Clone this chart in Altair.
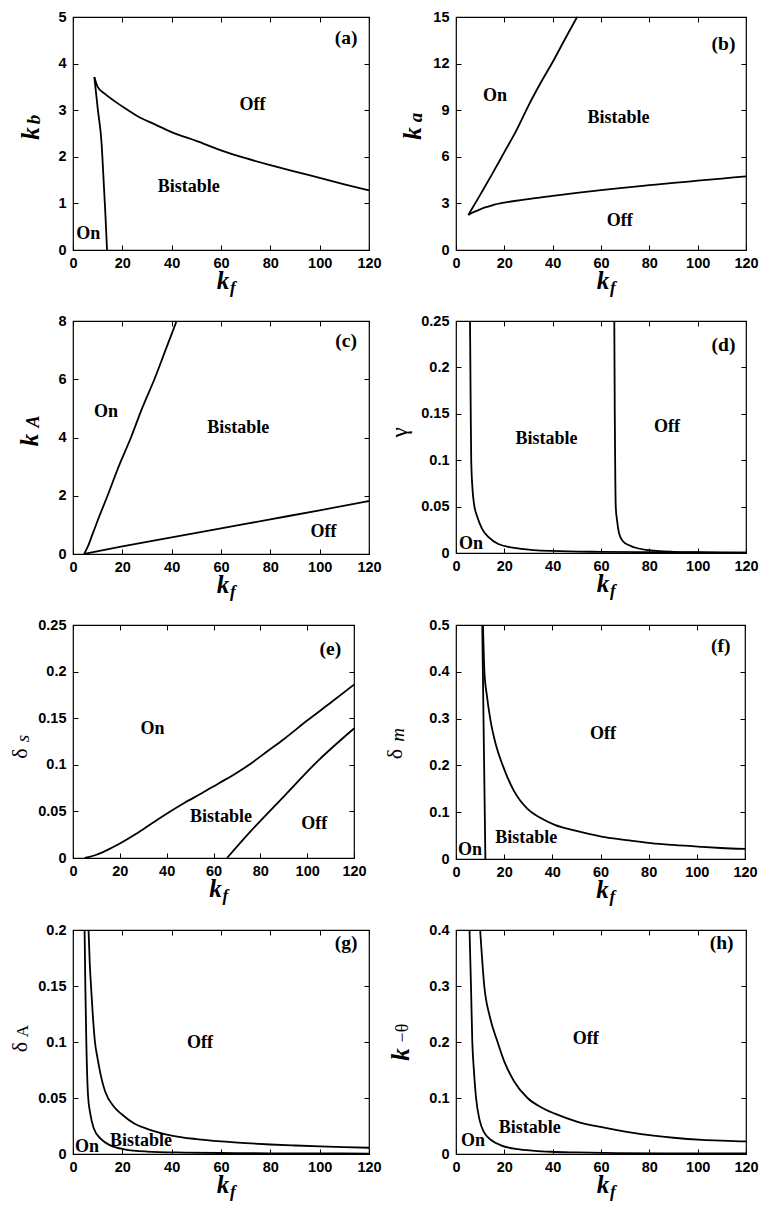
import altair as alt
import pandas as pd

SANS = "Liberation Sans"
SERIF = "Liberation Serif"

X_TICKS = [0, 20, 40, 60, 80, 100, 120]

# ---------------- (a) ----------------
A_Y_TICKS = [0, 1, 2, 3, 4, 5]
A_ON_X = [8.65, 10.1, 11.6, 12.4, 13.1, 13.8]
A_ON_Y = [3.71, 3.0, 2.28, 1.5, 0.8, 0.0]
A_OFF_X = [8.65, 10.0, 12.7, 16.7, 20.8, 26.2, 33.0, 40.0, 50.0, 60.0, 70.0, 80.0, 90.0, 100.0, 110.0, 120.0]
A_OFF_Y = [3.71, 3.50, 3.36, 3.20, 3.05, 2.87, 2.70, 2.53, 2.34, 2.14, 1.97, 1.82, 1.68, 1.55, 1.41, 1.28]
A_LAB = ["On", "Bistable", "Off"]
A_LAB_X = [6.2, 46.9, 72.8]
A_LAB_Y = [0.35, 1.35, 3.12]
A_LET = (110.7, 4.55)

# ---------------- (b) ----------------
B_Y_TICKS = [0, 3, 6, 9, 12, 15]
B_ON_X = [5.1, 10, 15, 20, 25, 30, 35, 40, 45, 50.1]
B_ON_Y = [2.25, 3.55, 4.9, 6.3, 7.7, 9.3, 10.75, 12.1, 13.55, 15.0]
B_OFF_X = [5.1, 6.5, 8, 10, 12, 15, 20, 30, 40, 50, 60, 70, 80, 90, 100, 110, 120]
B_OFF_Y = [2.25, 2.38, 2.49, 2.62, 2.74, 2.88, 3.05, 3.28, 3.48, 3.68, 3.86, 4.02, 4.17, 4.32, 4.46, 4.60, 4.74]
B_LAB = ["On", "Bistable", "Off"]
B_LAB_X = [16.1, 67.2, 67.8]
B_LAB_Y = [9.92, 8.52, 1.87]
B_LET = (110.7, 13.24)

# ---------------- (c) ----------------
C_Y_TICKS = [0, 2, 4, 6, 8]
C_ON_X = [4.5, 6, 8, 10, 14, 18.5, 23.5, 28, 33, 37.5, 42]
C_ON_Y = [0.0, 0.25, 0.7, 1.15, 2.0, 3.0, 4.0, 5.0, 6.0, 7.0, 8.0]
C_OFF_X = [4.5, 20, 40, 60, 80, 100, 120]
C_OFF_Y = [0.0, 0.26, 0.57, 0.88, 1.19, 1.50, 1.82]
C_LAB = ["On", "Bistable", "Off"]
C_LAB_X = [13.4, 67.0, 101.6]
C_LAB_Y = [4.86, 4.34, 0.74]
C_LET = (110.7, 7.32)

# ---------------- (d) ----------------
D_Y_TICKS = [0, 0.05, 0.1, 0.15, 0.2, 0.25]
D_1_X = [5.8, 5.95, 6.1, 6.3, 6.8, 7.4, 8.8, 10.8, 13.5, 17.5, 26.9, 40, 60, 80, 100, 120]
D_1_Y = [0.25, 0.2, 0.15, 0.1, 0.07, 0.054, 0.039, 0.026, 0.017, 0.0097, 0.0045, 0.0022, 0.0012, 0.0008, 0.0006, 0.0005]
D_2_X = [65.5, 65.6, 65.7, 65.85, 66.1, 66.7, 67.5, 69, 71.9, 78.6, 90, 100, 110, 120]
D_2_Y = [0.25, 0.2, 0.15, 0.1, 0.05, 0.034, 0.021, 0.013, 0.008, 0.0033, 0.0013, 0.0008, 0.0005, 0.0004]
D_LAB = ["On", "Bistable", "Off"]
D_LAB_X = [6.2, 37.4, 87.3]
D_LAB_Y = [0.0097, 0.123, 0.136]
D_LET = (110.7, 0.224)

# ---------------- (e) ----------------
E_Y_TICKS = [0, 0.05, 0.1, 0.15, 0.2, 0.25]
E_1_X = [5, 10, 15, 20, 27, 33.3, 40, 47.5, 55, 61.8, 70, 76, 83, 90, 100, 110, 120]
E_1_Y = [0.0, 0.0035, 0.009, 0.0155, 0.026, 0.0365, 0.0475, 0.059, 0.0695, 0.0795, 0.0915, 0.1015, 0.1145, 0.1275, 0.1475, 0.1665, 0.186]
E_2_X = [65.8, 76, 90.2, 104.5, 120]
E_2_Y = [0.0, 0.029, 0.0665, 0.104, 0.139]
E_LAB = ["On", "Bistable", "Off"]
E_LAB_X = [34.0, 63.2, 103.0]
E_LAB_Y = [0.138, 0.044, 0.036]
E_LET = (109.9, 0.224)

# ---------------- (f) ----------------
F_Y_TICKS = [0, 0.1, 0.2, 0.3, 0.4, 0.5]
F_1_X = [10.9, 11.55, 12.2]
F_1_Y = [0.5, 0.25, 0.0]
F_2_X = [11.2, 11.8, 12.8, 14.2, 16.5, 19.4, 24, 29.7, 35, 41, 50, 60.4, 70, 80.9, 90, 101.6, 110, 120]
F_2_Y = [0.5, 0.4, 0.35, 0.3, 0.245, 0.2, 0.146, 0.107, 0.088, 0.073, 0.06, 0.048, 0.041, 0.034, 0.03, 0.026, 0.0235, 0.0215]
F_LAB = ["On", "Bistable", "Off"]
F_LAB_X = [5.8, 29.2, 61.0]
F_LAB_Y = [0.0187, 0.0457, 0.267]
F_LET = (109.9, 0.455)

# ---------------- (g) ----------------
G_Y_TICKS = [0, 0.05, 0.1, 0.15, 0.2]
G_1_X = [4.7, 5.0, 5.4, 6.1, 7.0, 8.4, 11.4, 15.4, 20.8, 30, 45, 60, 80, 100, 120]
G_1_Y = [0.2, 0.15, 0.1, 0.052, 0.036, 0.023, 0.0132, 0.0075, 0.0042, 0.0022, 0.0013, 0.0009, 0.0006, 0.0005, 0.0004]
G_2_X = [6.3, 6.8, 7.3, 8.0, 8.9, 10.0, 11.5, 13.0, 16.7, 20, 25, 30, 40, 50, 60, 70, 80, 90, 100, 110, 120]
G_2_Y = [0.2, 0.17, 0.15, 0.125, 0.1, 0.085, 0.068, 0.056, 0.042, 0.035, 0.027, 0.0225, 0.0165, 0.0133, 0.0112, 0.0097, 0.0085, 0.0076, 0.0068, 0.0062, 0.0056]
G_LAB = ["On", "Bistable", "Off"]
G_LAB_X = [5.7, 27.6, 51.5]
G_LAB_Y = [0.0066, 0.0112, 0.0994]
G_LET = (110.7, 0.1885)

# ---------------- (h) ----------------
H_Y_TICKS = [0, 0.1, 0.2, 0.3, 0.4]
H_1_X = [5.6, 6.2, 6.75, 7.4, 8.3, 9.8, 11.7, 14.5, 18.6, 25.5, 39.3, 50, 66.8, 90, 120]
H_1_Y = [0.4, 0.3, 0.2, 0.15, 0.1, 0.06, 0.038, 0.025, 0.0155, 0.0086, 0.004, 0.0028, 0.0017, 0.0012, 0.001]
H_2_X = [10.0, 11.7, 14, 17.2, 20, 24, 29.6, 35, 40.9, 50, 61.3, 70, 81.7, 90, 102, 110, 120]
H_2_Y = [0.4, 0.3, 0.245, 0.2, 0.165, 0.13, 0.1, 0.084, 0.072, 0.058, 0.047, 0.04, 0.0327, 0.029, 0.0253, 0.0238, 0.0224]
H_LAB = ["On", "Bistable", "Off"]
H_LAB_X = [7.0, 30.5, 53.7]
H_LAB_Y = [0.0236, 0.0466, 0.205]
H_LET = (109.9, 0.377)

ONE = alt.Data(values=[{"k": 0}])


def txt(x, y, s, font, size, style="normal", weight="normal", angle=0, align="center"):
    return alt.Chart(ONE).mark_text(
        text=s, font=font, fontSize=size, fontStyle=style, fontWeight=weight,
        angle=angle, align=align, baseline="alphabetic", color="black"
    ).encode(x=alt.value(x), y=alt.value(y))


def main_axis(orient, values):
    return alt.Axis(
        orient=orient, values=values, format="~r", title=None, grid=False,
        domain=False, offset=-5, ticks=True, tickSize=5, tickWidth=1, tickColor="black",
        labelFont=SANS, labelFontSize=14.5, labelFontWeight="bold", labelColor="black",
        labelPadding=6 if orient == "bottom" else 7, labelFlush=False, labelOverlap=False,
        minExtent=0,
    )


def mirror_axis(orient, values):
    return alt.Axis(
        orient=orient, values=values, title=None, grid=False, domain=False,
        offset=-5, ticks=True, tickSize=5, tickWidth=1, tickColor="black", labels=False,
        minExtent=0, maxExtent=0,
    )


def panel(p):
    W, H = p["w"], p["h"]
    xs = alt.Scale(domain=[0, 120], nice=False, zero=False)
    ys = alt.Scale(domain=[0, p["ymax"]], nice=False, zero=False)
    rows = []
    for ci, (cx, cy) in enumerate(p["curves"]):
        for i, (a, b) in enumerate(zip(cx, cy)):
            rows.append({"x": a, "y": b, "c": ci, "i": i})
    df = pd.DataFrame(rows)
    lines = alt.Chart(df).mark_line(color="black", strokeWidth=1.8, interpolate="monotone").encode(
        x=alt.X("x:Q", scale=xs, axis=main_axis("bottom", X_TICKS)),
        y=alt.Y("y:Q", scale=ys, axis=main_axis("left", p["yticks"])),
        detail="c:N",
        order="i:Q",
    )
    lab_df = pd.DataFrame({"x": p["lab_x"], "y": p["lab_y"], "t": p["labels"]})
    labels = alt.Chart(lab_df).mark_text(
        font=SERIF, fontSize=18, fontWeight="bold", color="black", baseline="middle", align="center"
    ).encode(
        x=alt.X("x:Q", scale=xs, axis=mirror_axis("top", X_TICKS)),
        y=alt.Y("y:Q", scale=ys, axis=mirror_axis("right", p["yticks"])),
        text="t:N",
    )
    let_df = pd.DataFrame({"x": [p["letter"][1][0]], "y": [p["letter"][1][1]], "t": [p["letter"][0]]})
    letter = alt.Chart(let_df).mark_text(
        font=SERIF, fontSize=19.5, fontWeight="bold", color="black", baseline="middle", align="center"
    ).encode(
        x=alt.X("x:Q", scale=xs, axis=None),
        y=alt.Y("y:Q", scale=ys, axis=None),
        text="t:N",
    )
    layers = [lines, labels, letter]
    # x axis title k_f
    layers.append(txt(W / 2 + 2, H + 39, "k", SERIF, 25, "italic", "bold"))
    layers.append(txt(W / 2 + 9, H + 43, "f", SERIF, 17, "italic", "bold", align="left"))
    # y axis title pieces
    for (s, font, size, style, weight, dx, dy) in p["ytitle"]:
        layers.append(txt(dx, H / 2 + dy, s, font, size, style, weight, angle=270))
    if "box" in p:
        L, T = p["box"]
        box = alt.Chart(ONE).mark_rect(opacity=0).encode(
            x=alt.value(-L), x2=alt.value(W), y=alt.value(-T), y2=alt.value(H),
        )
        layers.append(box)
    return alt.layer(*layers).resolve_axis(x="independent", y="independent").properties(width=W, height=H)


panels = {
    "a": dict(w=296, h=233, box=(64, 8), ymax=5, yticks=A_Y_TICKS,
              curves=[(A_ON_X, A_ON_Y), (A_OFF_X, A_OFF_Y)],
              labels=A_LAB, lab_x=A_LAB_X, lab_y=A_LAB_Y, letter=("(a)", A_LET),
              ytitle=[("k", SERIF, 25, "italic", "bold", -34, 0), ("b", SERIF, 19, "italic", "bold", -33, -14)]),
    "b": dict(w=290, h=233, ymax=15, yticks=B_Y_TICKS,
              curves=[(B_ON_X, B_ON_Y), (B_OFF_X, B_OFF_Y)],
              labels=B_LAB, lab_x=B_LAB_X, lab_y=B_LAB_Y, letter=("(b)", B_LET),
              ytitle=[("k", SERIF, 25, "italic", "bold", -35, 0), ("a", SERIF, 19, "italic", "bold", -34, -16)]),
    "c": dict(w=296, h=233, ymax=8, yticks=C_Y_TICKS,
              curves=[(C_ON_X, C_ON_Y), (C_OFF_X, C_OFF_Y)],
              labels=C_LAB, lab_x=C_LAB_X, lab_y=C_LAB_Y, letter=("(c)", C_LET),
              ytitle=[("k", SERIF, 25, "italic", "bold", -35, 2.5), ("A", SERIF, 18, "italic", "bold", -34, -16)]),
    "d": dict(w=290, h=232, ymax=0.25, yticks=D_Y_TICKS,
              curves=[(D_1_X, D_1_Y), (D_2_X, D_2_Y)],
              labels=D_LAB, lab_x=D_LAB_X, lab_y=D_LAB_Y, letter=("(d)", D_LET),
              ytitle=[("γ", SERIF, 23, "normal", "normal", -49, -4.5)]),
    "e": dict(w=281, h=233, ymax=0.25, yticks=E_Y_TICKS,
              curves=[(E_1_X, E_1_Y), (E_2_X, E_2_Y)],
              labels=E_LAB, lab_x=E_LAB_X, lab_y=E_LAB_Y, letter=("(e)", E_LET),
              ytitle=[("δ", SERIF, 22, "normal", "normal", -46, 12), ("s", SERIF, 19, "italic", "normal", -44.5, -3)]),
    "f": dict(w=289, h=234, ymax=0.5, yticks=F_Y_TICKS,
              curves=[(F_1_X, F_1_Y), (F_2_X, F_2_Y)],
              labels=F_LAB, lab_x=F_LAB_X, lab_y=F_LAB_Y, letter=("(f)", F_LET),
              ytitle=[("δ", SERIF, 22, "normal", "normal", -54, 12), ("m", SERIF, 19, "italic", "normal", -52, -7)]),
    "g": dict(w=296, h=224, ymax=0.2, yticks=G_Y_TICKS,
              curves=[(G_1_X, G_1_Y), (G_2_X, G_2_Y)],
              labels=G_LAB, lab_x=G_LAB_X, lab_y=G_LAB_Y, letter=("(g)", G_LET),
              ytitle=[("δ", SERIF, 22, "normal", "normal", -46, 5), ("A", SERIF, 17, "normal", "normal", -45, -11)]),
    "h": dict(w=290, h=224, ymax=0.4, yticks=H_Y_TICKS,
              curves=[(H_1_X, H_1_Y), (H_2_X, H_2_Y)],
              labels=H_LAB, lab_x=H_LAB_X, lab_y=H_LAB_Y, letter=("(h)", H_LET),
              ytitle=[("k", SERIF, 25, "italic", "bold", -47, 12.5), ("−θ", SERIF, 18, "normal", "normal", -48, -9)]),
}

chart = alt.concat(
    *[panel(panels[k]) for k in "abcdefgh"],
    columns=2,
    spacing={"row": 71, "column": 87},
    bounds="flush",
    align="each",
).properties(padding=0).configure_view(stroke="black", strokeWidth=1.2)

chart.save("out.html", embed_options={"renderer": "svg", "actions": False})
